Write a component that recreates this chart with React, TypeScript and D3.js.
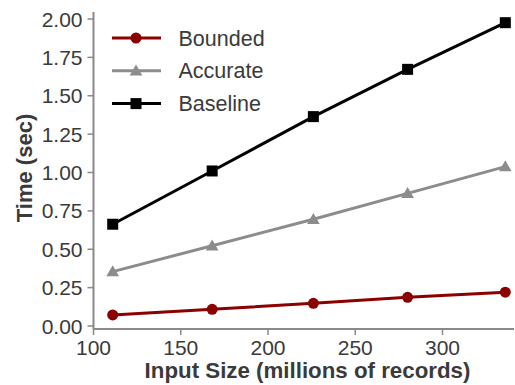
import React from "react";
import * as d3 from "d3";

const inputSizes = [111, 168, 226, 280, 336];
const bounded = [0.072, 0.109, 0.148, 0.187, 0.22];
const accurate = [0.354, 0.523, 0.695, 0.864, 1.038];
const baseline = [0.663, 1.01, 1.364, 1.672, 1.976];
const xTicks = [100, 150, 200, 250, 300];
const yTicks = [0, 0.25, 0.5, 0.75, 1.0, 1.25, 1.5, 1.75, 2.0];

const series = [
  { name: "Bounded", values: bounded, color: "#8b0000", marker: "circle" },
  { name: "Accurate", values: accurate, color: "#8c8c8c", marker: "triangle" },
  { name: "Baseline", values: baseline, color: "#000000", marker: "square" },
];

const W = 515;
const H = 385;
const FONT = "'Liberation Sans', Arial, sans-serif";

function Marker({ type, x, y, color }: { type: string; x: number; y: number; color: string }) {
  if (type === "circle") return <circle cx={x} cy={y} r={5.5} fill={color} />;
  if (type === "square") return <rect x={x - 5.5} y={y - 5.5} width={11} height={11} fill={color} />;
  const p = d3.symbol(d3.symbolTriangle, 70)();
  return <path d={p as string} transform={`translate(${x},${y + 1})`} fill={color} />;
}

export default function App() {
  const x = d3.scaleLinear().domain([100, 340]).range([93.5, 512.3]);
  const y = d3.scaleLinear().domain([0, 2]).range([326, 19]);
  const axisX0 = 93.5;
  const axisY0 = 329;
  const line = d3
    .line<number>()
    .x((_, i) => x(inputSizes[i]))
    .y((d) => y(d));
  const axisColor = "#8a8a8a";
  const textColor = "#3a3a3a";

  return (
    <svg
      width={W}
      height={H}
      style={{ position: "absolute", left: 0, top: 0, background: "#fff" }}
      fontFamily={FONT}
    >
      {/* axes */}
      <line x1={axisX0} x2={axisX0} y1={12} y2={axisY0} stroke={axisColor} strokeWidth={2} />
      <line x1={axisX0} x2={514} y1={axisY0} y2={axisY0} stroke={axisColor} strokeWidth={2} />
      {yTicks.map((t) => (
        <g key={"y" + t}>
          <line x1={axisX0 - 6} x2={axisX0} y1={y(t)} y2={y(t)} stroke={axisColor} strokeWidth={1.5} />
          <text
            x={axisX0 - 11}
            y={y(t) + 7.5}
            textAnchor="end"
            fontSize={21}
            fill={textColor}
          >
            {t.toFixed(2)}
          </text>
        </g>
      ))}
      {xTicks.map((t) => (
        <g key={"x" + t}>
          <line x1={x(t)} x2={x(t)} y1={axisY0} y2={axisY0 + 6} stroke={axisColor} strokeWidth={1.5} />
          <text x={x(t)} y={355} textAnchor="middle" fontSize={21} fill={textColor}>
            {t}
          </text>
        </g>
      ))}
      <text
        x={307.5}
        y={378}
        textAnchor="middle"
        fontSize={22.3}
        fontWeight="bold"
        fill={textColor}
      >
        Input Size (millions of records)
      </text>
      <text
        transform={`translate(32,168) rotate(-90)`}
        textAnchor="middle"
        fontSize={22}
        fontWeight="bold"
        fill={textColor}
      >
        Time (sec)
      </text>

      {/* series */}
      {series.map((s) => (
        <g key={s.name}>
          <path d={line(s.values) as string} fill="none" stroke={s.color} strokeWidth={3} />
          {s.values.map((v, i) => (
            <Marker key={i} type={s.marker} x={x(inputSizes[i])} y={y(v)} color={s.color} />
          ))}
        </g>
      ))}

      {/* legend */}
      {series.map((s, i) => {
        const ly = 38 + i * 32.8;
        return (
          <g key={"leg" + s.name}>
            <line x1={112} x2={161} y1={ly} y2={ly} stroke={s.color} strokeWidth={3} />
            <Marker type={s.marker} x={136} y={ly} color={s.color} />
            <text x={178.5} y={ly + 7.5} fontSize={21.5} fill={textColor}>
              {s.name}
            </text>
          </g>
        );
      })}
    </svg>
  );
}
